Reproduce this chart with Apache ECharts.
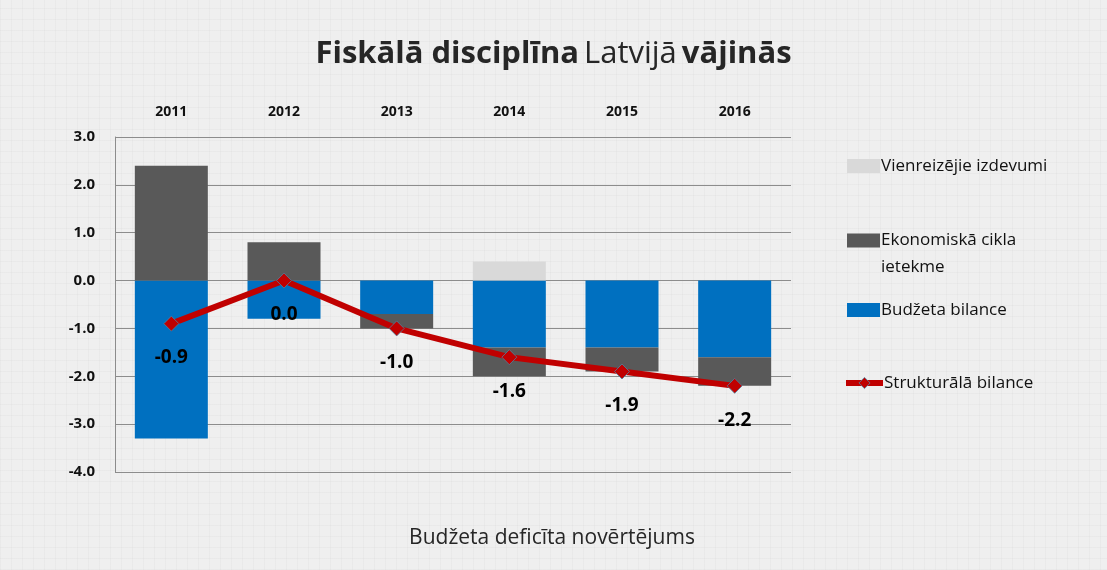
<!DOCTYPE html>
<html>
<head>
<meta charset="utf-8">
<script src="https://cdn.jsdelivr.net/npm/echarts@6/dist/echarts.min.js"></script>
<style>
html,body{margin:0;padding:0;}
body{
  background-color:#efefef;
  background-image:
    repeating-linear-gradient(0deg, rgba(0,0,0,0.022) 0px, rgba(0,0,0,0.022) 1px, transparent 1px, transparent 11px),
    repeating-linear-gradient(90deg, rgba(0,0,0,0.022) 0px, rgba(0,0,0,0.022) 1px, transparent 1px, transparent 11px);
}
#chart{width:1107px;height:570px;}
</style>
</head>
<body>
<div id="chart"></div>
<script>
var years = ['2011', '2012', '2013', '2014', '2015', '2016'];
var budzetaBilance = [-3.3, -0.8, -0.7, -1.4, -1.4, -1.6];
var ciklaIetekme = [2.4, 0.8, -0.3, -0.6, -0.5, -0.6];
var vienreizejie = [0, 0, 0, 0.4, 0, 0];
var strukturala = [-0.9, 0.0, -1.0, -1.6, -1.9, -2.2];
var yTicks = [-4, 3, 1];

var font = '"Open Sans", "Noto Sans", sans-serif';
var chart = echarts.init(document.getElementById('chart'), null, {renderer: 'canvas'});

function legendAt(name, top, extra) {
  var l = {
    data: [{name: name, icon: 'rect'}], left: 842, top: top, orient: 'vertical',
    itemWidth: 33, itemHeight: 14, itemGap: 0, itemStyle: {borderWidth: 0},
    textStyle: {fontFamily: font, fontSize: 17, color: '#111', lineHeight: 28, padding: [0,0,0,-4]}
  };
  return Object.assign(l, extra || {});
}

chart.setOption({
  backgroundColor: 'transparent',
  animation: false,
  title: [{
    text: '{b|Fiskālā disciplīna} {n|Latvijā} {b|vājinās}',
    left: 'center', top: 34,
    textStyle: {
      rich: {
        b: {fontFamily: font, fontSize: 31, fontWeight: 'bold', color: '#262626'},
        n: {fontFamily: font, fontSize: 31, fontWeight: 'normal', color: '#262626'}
      }
    }
  }, {
    text: 'Budžeta deficīta novērtējums',
    left: 547, top: 523, textAlign: 'center',
    textStyle: {fontFamily: font, fontSize: 21, fontWeight: 'normal', color: '#262626'}
  }],
  legend: [
    legendAt('Vienreizējie izdevumi', 147),
    legendAt('Ekonomiskā cikla\nietekme', 195, {
      formatter: function (n) { return '\n' + n; },
      textStyle: {fontFamily: font, fontSize: 17, color: '#111', lineHeight: 27, padding: [0,0,0,-4]}
    }),
    legendAt('Budžeta bilance', 291),
    legendAt('Strukturālā bilance', 364, {
      data: [{name: 'Strukturālā bilance'}], itemWidth: 37, left: 838,
      lineStyle: {width: 6, color: '#C00000'},
      itemStyle: {color: '#C00000', borderColor: '#4f81a0', borderWidth: 0.8}
    })
  ],
  grid: {left: 115, right: 316, top: 137, bottom: 98, containLabel: false},
  xAxis: {
    type: 'category', data: years, position: 'top',
    axisLine: {show: false}, axisTick: {show: false},
    axisLabel: {fontFamily: font, fontSize: 14, fontWeight: 'bold', color: '#111', margin: 18}
  },
  yAxis: {
    type: 'value', min: yTicks[0], max: yTicks[1], interval: yTicks[2],
    axisLine: {show: true, lineStyle: {color: '#8c8c8c', width: 1}},
    axisTick: {show: false},
    splitLine: {show: true, lineStyle: {color: '#8c8c8c', width: 1}},
    axisLabel: {fontFamily: font, fontSize: 15, fontWeight: 'bold', color: '#111', margin: 20,
      formatter: function (v) { return v.toFixed(1); }}
  },
  series: [{
    name: 'Budžeta bilance', type: 'bar', stack: 'a', data: budzetaBilance,
    barWidth: 73, itemStyle: {color: '#0070C0'}
  }, {
    name: 'Ekonomiskā cikla\nietekme', type: 'bar', stack: 'a', data: ciklaIetekme,
    barWidth: 73, itemStyle: {color: '#595959'}
  }, {
    name: 'Vienreizējie izdevumi', type: 'bar', stack: 'a', data: vienreizejie,
    barWidth: 73, itemStyle: {color: '#D9D9D9'}
  }, {
    name: 'Strukturālā bilance', type: 'line', data: strukturala,
    symbol: 'diamond', symbolSize: 15,
    lineStyle: {color: '#C00000', width: 6},
    itemStyle: {color: '#C00000', borderColor: '#4f81a0', borderWidth: 0.8},
    label: {show: true, position: 'bottom', distance: 17,
      fontFamily: font, fontSize: 19, fontWeight: 'bold', color: '#000',
      formatter: function (p) { return p.value.toFixed(1); }},
    z: 5
  }]
});
</script>
</body>
</html>
